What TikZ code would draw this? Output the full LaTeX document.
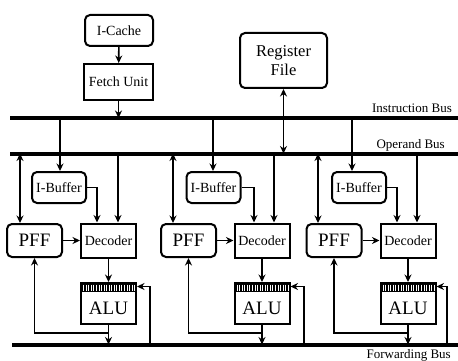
\documentclass[tikz,border=0pt]{standalone}
\usepackage{fontspec}
\setmainfont{Liberation Serif}
\usetikzlibrary{arrows.meta,calc}
\begin{document}
\begin{tikzpicture}[x=1pt,y=-1pt,
  box/.style={draw,line width=2pt,minimum width=55pt,minimum height=33pt,inner sep=1pt,font=\fontsize{14}{15}\selectfont},
  rbox/.style={box,rounded corners=5pt},
  alubox/.style={box,minimum height=41pt,path picture={
     \fill (path picture bounding box.north west) rectangle ($(path picture bounding box.north east)+(0,9)$);
     \foreach \k in {1,...,21} \draw[white,line width=0.7pt] ($(path picture bounding box.north west)+(2.55*\k,1.5)$) -- ++(0,6);}},
  conn/.style={line width=1.6pt,-{Stealth[length=7.5pt,width=7pt]}},
  dconn/.style={line width=1.6pt,{Stealth[length=7.5pt,width=7pt]}-{Stealth[length=7.5pt,width=7pt]}},
  bus/.style={line width=4pt},
  buslabel/.style={font=\fontsize{13}{14}\selectfont,inner sep=0pt,anchor=base east},
  big/.style={font=\fontsize{19}{20}\selectfont}]
\useasboundingbox (0,0) rectangle (458,361);

% top
\node[rbox,minimum width=68pt,minimum height=31pt] (icache) at (119,30.5) {I-Cache};
\node[box,minimum width=69pt,minimum height=36pt] (fetch) at (118.5,82) {Fetch Unit};
\node[rbox,minimum width=87pt,minimum height=55pt,align=center,font=\fontsize{16.5}{19}\selectfont] (regfile) at (283.5,60.5) {Register\\File};

% buses
\coordinate (ibL) at (10,118);   \coordinate (ibR) at (458,118);
\coordinate (obL) at (10,153.5); \coordinate (obR) at (458,153.5);
\coordinate (fbL) at (12,344.5); \coordinate (fbR) at (458,344.5);
\draw[bus] (ibL) -- (ibR);
\draw[bus] (obL) -- (obR);
\draw[bus] (fbL) -- (fbR);
\node[buslabel] (iblabel) at (452,112) {Instruction Bus};
\node[buslabel] (oblabel) at (445,148.5) {Operand Bus};
\node[buslabel] (fblabel) at (451,358) {Forwarding Bus};

\draw[conn] (icache) -- (fetch);
\draw[conn] (fetch.south) -- (fetch.south |- ibL);
\draw[dconn] (regfile.south) -- (regfile.south |- obL);

% columns
\foreach \c/\px/\ix/\dx/\il/\bl/\ol/\ir/\fx in
  {1/34.5/59/108.5/60/20/118/97/150,
   2/188.5/213.5/262/213/173/274/254/304,
   3/334/359/408/352/318/417/397/447}{
  \node[rbox,minimum width=54pt,minimum height=31pt] (ibuf\c) at (\ix,187.5) {I-Buffer};
  \node[rbox,minimum width=55pt,minimum height=33pt,big] (pff\c) at (\px,240.5) {PFF};
  \node[box,minimum width=55pt,minimum height=34pt] (dec\c) at (\dx,240.5) {Decoder};
  \node[alubox] (alu\c) at (\dx,303.5) {};
  \node[big,inner sep=0pt] (alutext\c) at ($(alu\c.center)+(0,4.5)$) {ALU};
  \coordinate (ib\c) at (\il,118);
  \coordinate (obp\c) at (\bl,153.5);
  \coordinate (obd\c) at (\ol,153.5);
  \coordinate (ir\c) at (\ir,200);
  \coordinate (fj\c) at ($(alu\c.south)+(0,8)$);
  \coordinate (fb\c) at (\fx,344.5);
  \coordinate (af\c) at ($(alu\c.north east)+(0,4.5)$);
  \draw[conn] (ib\c) -- (ib\c |- ibuf\c.north);
  \draw[dconn] (obp\c) -- (obp\c |- pff\c.north);
  \draw[conn] (obd\c) -- (obd\c |- dec\c.north);
  \draw[conn] (ibuf\c.east) -| (ir\c |- dec\c.north);
  \draw[conn] (pff\c.east) -- (dec\c.west);
  \draw[conn] (dec\c) -- (alu\c);
  \draw[conn] (alu\c.south) -- (alu\c.south |- fbL);
  \draw[conn] (fj\c) -| (pff\c.south);
  \draw[conn] (fb\c) |- (af\c);
}
\end{tikzpicture}
\end{document}
